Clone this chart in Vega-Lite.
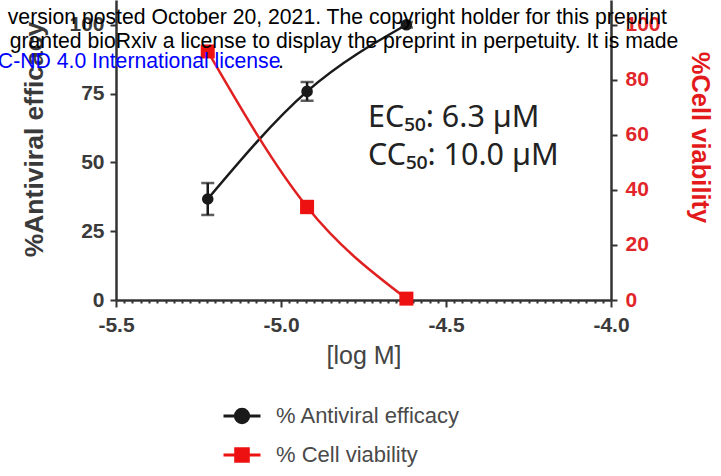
{
  "$schema": "https://vega.github.io/schema/vega-lite/v6.json",
  "width": 495,
  "height": 300,
  "autosize": {"type": "none"},
  "padding": {"left": 116, "top": 0, "right": 110, "bottom": 176},
  "background": "white",
  "config": {"view": {"stroke": null}},
  "datasets": {
    "assay": [
      {"logM": -5.222, "pct": 36.7, "lo": 30.9, "hi": 42.5, "series": "% Antiviral efficacy"},
      {"logM": -4.921, "pct": 75.8, "lo": 72.4, "hi": 79.2, "series": "% Antiviral efficacy"},
      {"logM": -4.620, "pct": 100.0, "lo": 99.0, "hi": 101.0, "series": "% Antiviral efficacy"},
      {"logM": -5.222, "pct": 90.3, "lo": 88.8, "hi": 91.8, "series": "% Cell viability"},
      {"logM": -4.921, "pct": 33.8, "lo": 31.6, "hi": 36.0, "series": "% Cell viability"},
      {"logM": -4.620, "pct": 0.5, "lo": 0.0, "hi": 1.0, "series": "% Cell viability"}
    ],
    "results": [
      {"logM": -4.736, "pct": 62.9, "text": "EC₅₀: 6.3 µM"},
      {"logM": -4.736, "pct": 49.0, "text": "CC₅₀: 10.0 µM"}
    ],
    "notice": [
      {"logM": -5.828, "pct": 102.5, "text": "version posted October 20, 2021. The copyright holder for this preprint"},
      {"logM": -5.822, "pct": 93.8, "text": "granted bioRxiv a license to display the preprint in perpetuity. It is made"},
      {"logM": -5.009, "pct": 86.5, "text": "."}
    ],
    "noticeLink": [
      {"logM": -5.858, "pct": 86.5, "text": "C-ND 4.0 International license"}
    ]
  },
  "encoding": {
    "x": {
      "field": "logM", "type": "quantitative", "title": "[log M]",
      "scale": {"domain": [-5.5, -4.0], "nice": false, "zero": false},
      "axis": {
        "title": "[log M]",
        "values": [-5.5, -5.475, -5.45, -5.425, -5.4, -5.375, -5.35, -5.325, -5.3, -5.275, -5.25, -5.225, -5.2, -5.175, -5.15, -5.125, -5.1, -5.075, -5.05, -5.025, -5.0, -4.975, -4.95, -4.925, -4.9, -4.875, -4.85, -4.825, -4.8, -4.775, -4.75, -4.725, -4.7, -4.675, -4.65, -4.625, -4.6, -4.575, -4.55, -4.525, -4.5, -4.475, -4.45, -4.425, -4.4, -4.375, -4.35, -4.325, -4.3, -4.275, -4.25, -4.225, -4.2, -4.175, -4.15, -4.125, -4.1, -4.075, -4.05, -4.025, -4.0],
        "labelExpr": "abs(datum.value * 2 - round(datum.value * 2)) < 0.001 ? replace(format(datum.value, '.1f'), '\u2212', '-') : ''",
        "labelOverlap": false,
        "labelFlush": false,
        "labelBound": false,
        "tickSize": {"condition": {"test": "abs(datum.value * 2 - round(datum.value * 2)) < 0.001", "value": 7}, "value": 3},
        "tickColor": "#333333",
        "tickWidth": 2,
        "domainColor": "#333333",
        "domainWidth": 2.5,
        "grid": false,
        "labelFont": "Liberation Sans",
        "labelFontWeight": "bold",
        "labelFontSize": 21,
        "labelColor": "#3a3a3a",
        "labelPadding": 7,
        "titleFont": "Liberation Sans",
        "titleFontWeight": "normal",
        "titleFontSize": 25,
        "titleColor": "#444444",
        "titlePadding": 8
      }
    }
  },
  "layer": [
    {
      "data": {"name": "assay"},
      "transform": [{"filter": "datum.series === '% Antiviral efficacy'"}],
      "encoding": {
        "y": {
          "field": "pct", "type": "quantitative", "title": "%Antiviral efficacy",
          "scale": {"domain": [0, 109], "nice": false, "zero": false},
          "axis": {
            "orient": "left",
            "title": "%Antiviral efficacy",
            "values": [0, 25, 50, 75, 100],
            "grid": false,
            "domainColor": "#333333",
            "domainWidth": 2.5,
            "tickColor": "#333333",
            "tickWidth": 2,
            "tickSize": 6,
            "labelFont": "Liberation Sans",
            "labelFontWeight": "bold",
            "labelFontSize": 21,
            "labelColor": "#3a3a3a",
            "labelPadding": 6,
            "titleFont": "Liberation Sans",
            "titleFontWeight": "bold",
            "titleFontSize": 26.5,
            "titleColor": "#3a3a3a",
            "titlePadding": 20,
            "titleY": 139
          }
        }
      },
      "layer": [
        {
          "mark": {"type": "line", "interpolate": "monotone", "color": "#1a1a1a", "strokeWidth": 2.5}
        },
        {
          "mark": {"type": "errorbar", "ticks": true, "size": 13, "thickness": 2.5, "color": "#1a1a1a"},
          "encoding": {
            "y": {
              "field": "lo", "type": "quantitative", "title": "%Antiviral efficacy",
              "scale": {"domain": [0, 109], "nice": false, "zero": false},
              "axis": {
                "orient": "left",
                "title": "%Antiviral efficacy",
                "values": [0, 25, 50, 75, 100],
                "grid": false,
                "domainColor": "#333333",
                "domainWidth": 2.5,
                "tickColor": "#333333",
                "tickWidth": 2,
                "tickSize": 6,
                "labelFont": "Liberation Sans",
                "labelFontWeight": "bold",
                "labelFontSize": 21,
                "labelColor": "#3a3a3a",
                "labelPadding": 6,
                "titleFont": "Liberation Sans",
                "titleFontWeight": "bold",
                "titleFontSize": 26.5,
                "titleColor": "#3a3a3a",
                "titlePadding": 20,
                "titleY": 139
              }
            },
            "y2": {"field": "hi"}
          }
        },
        {
          "mark": {"type": "point", "filled": true, "size": 135, "opacity": 1, "shape": "circle", "color": "#1a1a1a"}
        }
      ]
    },
    {
      "data": {"name": "assay"},
      "transform": [{"filter": "datum.series === '% Cell viability'"}],
      "encoding": {
        "y": {
          "field": "pct", "type": "quantitative", "title": "%Cell viability",
          "scale": {"domain": [0, 109], "nice": false, "zero": false},
          "axis": {
            "orient": "right",
            "title": "%Cell viability",
            "values": [0, 20, 40, 60, 80, 100],
            "grid": false,
            "domainColor": "#333333",
            "domainWidth": 2.5,
            "tickColor": "#333333",
            "tickWidth": 2,
            "tickSize": 6,
            "labelFont": "Liberation Sans",
            "labelFontWeight": "bold",
            "labelFontSize": 21,
            "labelColor": "#e0262a",
            "labelPadding": 8,
            "titleFont": "Liberation Sans",
            "titleFontWeight": "bold",
            "titleFontSize": 25.5,
            "titleColor": "#e31a1c",
            "titleAngle": 90,
            "titlePadding": 26,
            "titleY": 137
          }
        }
      },
      "layer": [
        {
          "mark": {"type": "line", "interpolate": "monotone", "color": "#e02020", "strokeWidth": 2.5}
        },
        {
          "mark": {"type": "errorbar", "ticks": true, "size": 13, "thickness": 2.5, "color": "#e02020"},
          "encoding": {
            "y": {
              "field": "lo", "type": "quantitative", "title": "%Cell viability",
              "scale": {"domain": [0, 109], "nice": false, "zero": false},
              "axis": {
                "orient": "right",
                "title": "%Cell viability",
                "values": [0, 20, 40, 60, 80, 100],
                "grid": false,
                "domainColor": "#333333",
                "domainWidth": 2.5,
                "tickColor": "#333333",
                "tickWidth": 2,
                "tickSize": 6,
                "labelFont": "Liberation Sans",
                "labelFontWeight": "bold",
                "labelFontSize": 21,
                "labelColor": "#e0262a",
                "labelPadding": 8,
                "titleFont": "Liberation Sans",
                "titleFontWeight": "bold",
                "titleFontSize": 25.5,
                "titleColor": "#e31a1c",
                "titleAngle": 90,
                "titlePadding": 26,
                "titleY": 137
              }
            },
            "y2": {"field": "hi"}
          }
        },
        {
          "mark": {"type": "point", "filled": true, "size": 196, "opacity": 1, "shape": "square", "color": "#ee1111"}
        }
      ]
    },
    {
      "encoding": {
        "y": {"field": "pct", "type": "quantitative", "scale": {"domain": [0, 109], "nice": false, "zero": false}, "axis": null}
      },
      "layer": [
        {
          "data": {"name": "results"},
          "mark": {"type": "text", "align": "left", "baseline": "alphabetic", "font": "Noto Sans", "fontSize": 30.5, "color": "#222222"},
          "encoding": {"text": {"field": "text"}}
        },
        {
          "data": {"name": "notice"},
          "mark": {"type": "text", "align": "left", "baseline": "middle", "font": "Liberation Sans", "fontSize": 21.2, "color": "#000000"},
          "encoding": {"text": {"field": "text"}}
        },
        {
          "data": {"name": "noticeLink"},
          "mark": {"type": "text", "align": "left", "baseline": "middle", "font": "Liberation Sans", "fontSize": 21.2, "color": "#0000ff"},
          "encoding": {"text": {"field": "text"}}
        },
        {
          "data": {"name": "assay"},
          "mark": {"type": "point", "filled": true, "opacity": 0, "strokeWidth": 3},
          "encoding": {
            "color": {
              "field": "series", "type": "nominal",
              "scale": {"domain": ["% Antiviral efficacy", "% Cell viability"], "range": ["#1a1a1a", "#ee1111"]},
              "legend": {
                "orient": "none", "legendX": 106, "legendY": 396, "title": null,
                "symbolSize": 1369, "symbolStrokeWidth": 3, "symbolOpacity": 1,
                "labelFont": "Liberation Sans", "labelFontSize": 22, "labelColor": "#4a4a4a",
                "labelLimit": 0, "labelOffset": 14, "rowPadding": 6
              }
            },
            "stroke": {
              "field": "series", "type": "nominal",
              "scale": {"domain": ["% Antiviral efficacy", "% Cell viability"], "range": ["#1a1a1a", "#ee1111"]},
              "legend": {
                "orient": "none", "legendX": 106, "legendY": 396, "title": null,
                "symbolSize": 1369, "symbolStrokeWidth": 3, "symbolOpacity": 1,
                "labelFont": "Liberation Sans", "labelFontSize": 22, "labelColor": "#4a4a4a",
                "labelLimit": 0, "labelOffset": 14, "rowPadding": 6
              }
            },
            "shape": {
              "field": "series", "type": "nominal",
              "scale": {
                "domain": ["% Antiviral efficacy", "% Cell viability"],
                "range": [
                  "M-1,0H1M-0.36,0A0.36,0.36 0 1,0 0.36,0A0.36,0.36 0 1,0 -0.36,0Z",
                  "M-1,0H1M-0.34,-0.34H0.34V0.34H-0.34Z"
                ]
              },
              "legend": {
                "orient": "none", "legendX": 106, "legendY": 396, "title": null,
                "symbolSize": 1369, "symbolStrokeWidth": 3, "symbolOpacity": 1,
                "labelFont": "Liberation Sans", "labelFontSize": 22, "labelColor": "#4a4a4a",
                "labelLimit": 0, "labelOffset": 14, "rowPadding": 6
              }
            }
          }
        }
      ]
    }
  ],
  "resolve": {"scale": {"y": "independent"}}
}
